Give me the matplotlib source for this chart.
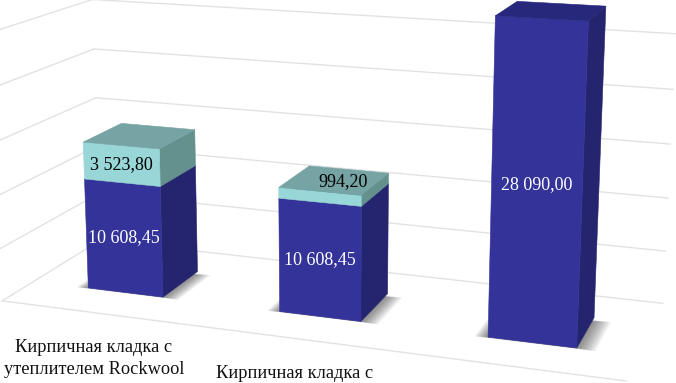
"""3D stacked bars drawn through a fitted perspective camera."""

import matplotlib

matplotlib.use("Agg")
import matplotlib.pyplot as plt
import numpy as np

plt.rcParams["font.family"] = ["Liberation Serif", "DejaVu Serif"]

# chart values
base_values = [10608.45, 10608.45, 28090.00]
layer_values = [3523.80, 994.20, 0.0]
base_labels = ["10 608,45", "10 608,45", "28 090,00"]
layer_labels = ["3 523,80", "994,20", ""]
grid_values = [0, 5000, 10000, 15000, 20000, 25000]
category_lines = [
    ["Кирпичная кладка с", "утеплителем Rockwool"],
    ["Кирпичная кладка с"],
]

# colours
FRONT, SIDE, TOP = "#333399", "#25256f", "#27277c"
L_FRONT, L_SIDE, L_TOP = "#98d6d8", "#64908e", "#76a3a3"
GRID = "#e2e2e2"

# bar shape in category units, floor extent
HALF_W = 0.2
DEPTH = 1.0
FLOOR_X = (-0.5, 2.47)
FLOOR_Y = (-0.75, 1.75)

# camera calibration: (category x, depth y, value) -> picture pixel
CALIB = [
    (-0.2, 0, 0, 88, 288), (0.2, 0, 0, 163, 297), (0.2, 1, 0, 197, 270),
    (-0.2, 0, 10608, 84, 178), (0.2, 0, 10608, 160, 186), (0.2, 1, 10608, 195, 166),
    (-0.2, 0, 14132, 83, 142), (0.2, 0, 14132, 161, 150), (0.2, 1, 14132, 194, 131),
    (-0.2, 1, 14132, 122, 123),
    (0.8, 0, 0, 279, 312), (1.2, 0, 0, 362, 322), (1.2, 1, 0, 388, 293),
    (0.8, 0, 10608, 279, 198), (1.2, 0, 10608, 362, 207), (1.2, 1, 10608, 388, 185),
    (0.8, 0, 11602, 279, 187), (1.2, 0, 11602, 362, 195), (1.2, 1, 11602, 388, 173),
    (0.8, 1, 11602, 310, 167),
    (1.8, 0, 0, 487, 338), (2.2, 0, 0, 577, 348), (2.2, 1, 0, 594, 317),
    (1.8, 0, 28090, 495, 15), (2.2, 0, 28090, 587, 21), (2.2, 1, 28090, 607, 6),
    (1.8, 1, 28090, 517, 1),
]


def fit_camera(points):
    """Least squares fit of a 3x4 projection with the last entry fixed to 1."""
    rows, rhs = [], []
    for x, y, z, u, v in points:
        z = z / 1000.0
        rows.append([x, y, z, 1, 0, 0, 0, 0, -u * x, -u * y, -u * z])
        rows.append([0, 0, 0, 0, x, y, z, 1, -v * x, -v * y, -v * z])
        rhs += [u, v]
    p = np.linalg.lstsq(np.array(rows, float), np.array(rhs, float), rcond=None)[0]
    return np.append(p, 1.0).reshape(3, 4)


CAM = fit_camera(CALIB)


def project(x, y, z):
    h = CAM @ np.array([x, y, z / 1000.0, 1.0])
    return h[0] / h[2], h[1] / h[2]


def poly(ax, corners, color, zorder):
    pts = [project(*c) for c in corners]
    ax.fill(*zip(*pts), facecolor=color, edgecolor=color, linewidth=0.4, zorder=zorder)


def draw_line(ax, a, b, **kw):
    pa, pb = project(*a), project(*b)
    ax.plot([pa[0], pb[0]], [pa[1], pb[1]], **kw)


def draw_box(ax, xc, z0, z1, front, side, top, zorder):
    x0, x1 = xc - HALF_W, xc + HALF_W
    poly(ax, [(x1, 0, z0), (x1, DEPTH, z0), (x1, DEPTH, z1), (x1, 0, z1)], side, zorder)
    poly(ax, [(x0, 0, z0), (x1, 0, z0), (x1, 0, z1), (x0, 0, z1)], front, zorder + 0.1)
    poly(ax, [(x0, 0, z1), (x1, 0, z1), (x1, DEPTH, z1), (x0, DEPTH, z1)], top, zorder + 0.2)


def draw_shadow(ax, xc, zorder):
    # soft contact shadow built from nested translucent footprints
    for grow in np.linspace(0.085, 0.005, 14):
        x0, x1 = xc - HALF_W - grow * 0.7, xc + HALF_W + grow
        y0, y1 = -grow * 0.3, DEPTH - 0.12 + grow * 0.5
        pts = [project(x0, y0, 0), project(x1, y0, 0), project(x1, y1, 0), project(x0, y1, 0)]
        ax.fill(*zip(*pts), facecolor="#303030", edgecolor="none", alpha=0.05, zorder=zorder)


fig = plt.figure(figsize=(6.76, 3.83), dpi=100)
ax = fig.add_axes([0, 0, 1, 1])
ax.set_xlim(0, 676)
ax.set_ylim(383, 0)
ax.axis("off")

xl, xr = FLOOR_X
yf, yb = FLOOR_Y
grid_kw = dict(color=GRID, linewidth=1.0, zorder=1)
for g in grid_values:
    draw_line(ax, (xl, yb, g), (xr, yb, g), **grid_kw)
    draw_line(ax, (xl, yf, g), (xl, yb, g), **grid_kw)
draw_line(ax, (xl, yf, 0), (xr, yf, 0), **grid_kw)

for i, (base, layer) in enumerate(zip(base_values, layer_values)):
    draw_shadow(ax, i, 2 + i)
    draw_box(ax, i, 0, base, FRONT, SIDE, TOP, 3 + i)
    if layer > 0:
        draw_box(ax, i, base, base + layer, L_FRONT, L_SIDE, L_TOP, 3.5 + i)

    cx, cy = project(i, 0, base / 2)
    ax.text(cx + 0.5, cy, base_labels[i], color="white", fontsize=13,
            ha="center", va="center", zorder=10)
    if layer > 0:
        lx, ly = project(i, 0, base + layer / 2)
        if layer < 2000:
            # thin slice: label sits on the top face
            lx, ly = lx + 23, ly - 15
        ax.text(lx, ly, layer_labels[i], color="black", fontsize=13,
                ha="center", va="center", zorder=10)

label_pos = [(94, 347), (295, 373)]
for lines, (px, py) in zip(category_lines, label_pos):
    for k, line in enumerate(lines):
        ax.text(px, py + k * 22, line, color="#111111", fontsize=13.2,
                ha="center", va="center")

fig.savefig("out.png", dpi=100)
